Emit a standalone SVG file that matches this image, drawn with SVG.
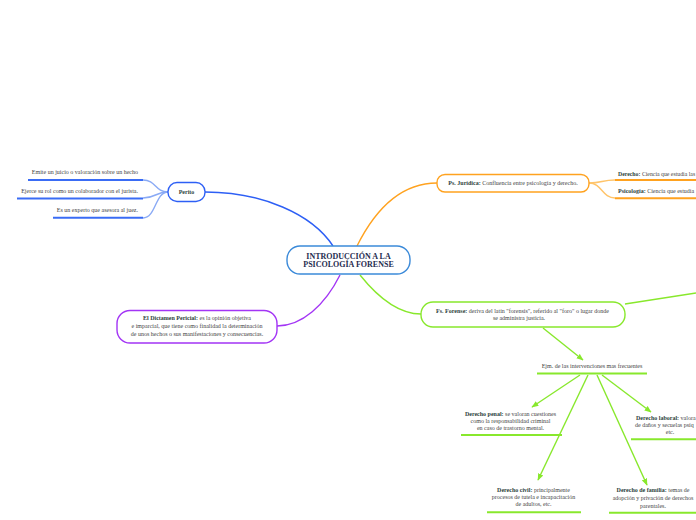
<svg xmlns="http://www.w3.org/2000/svg" width="696" height="520" viewBox="0 0 696 520">
<style>
text{font-family:"Liberation Serif","Times New Roman",serif;font-size:6px;fill:#444;}
.b{font-weight:bold;fill:#2d3f3c;}
.t{font-size:8px;font-weight:bold;fill:#1f2d4f;}
.c{text-anchor:middle;}
.r{text-anchor:end;}
.box{fill:#fff;stroke-width:1.4;}
.cn{fill:none;stroke-width:1.4;}
.ul{fill:none;stroke-width:2;}
</style>
<defs>
<marker id="ag" viewBox="0 0 10 10" refX="9" refY="5" markerWidth="7" markerHeight="7" orient="auto" markerUnits="userSpaceOnUse">
<path d="M0,1 L10,5 L0,9 Z" fill="#88e82c"/>
</marker>
</defs>
<rect width="696" height="520" fill="#fff"/>
<g id="connectors">
<path class="cn" stroke="#2d5ff5" d="M333,246 C312,214 262,192 205,192"/>
<path class="cn" stroke="#ffa21f" d="M357,246 C375,210 400,183 437,183"/>
<path class="cn" stroke="#a335f5" d="M340,275 C325,305 302,326 277,326"/>
<path class="cn" stroke="#88e82c" d="M360,275 C380,300 400,314 421,314"/>
<path class="cn" stroke="#8aaaf5" d="M168,192 C155,192 156,180 143,180"/>
<path class="cn" stroke="#8aaaf5" d="M168,192 C155,192 156,198 143,198"/>
<path class="cn" stroke="#8aaaf5" d="M168,192 C155,192 156,218 143,218"/>
<path class="cn" stroke="#ffc46a" d="M589,183 C602,183 602,180 615,180"/>
<path class="cn" stroke="#ffc46a" d="M589,183 C602,183 602,198 615,198"/>
<path class="cn" stroke="#88e82c" d="M625,304 L696,293"/>
<path class="cn" stroke="#88e82c" d="M543,328 L583,360" marker-end="url(#ag)"/>
<path class="cn" stroke="#88e82c" d="M580,375 L532,407" marker-end="url(#ag)"/>
<path class="cn" stroke="#88e82c" d="M588,375 L538,480" marker-end="url(#ag)"/>
<path class="cn" stroke="#88e82c" d="M597,375 L647,485" marker-end="url(#ag)"/>
<path class="cn" stroke="#88e82c" d="M602,375 L651,412" marker-end="url(#ag)"/>
</g>
<g id="central">
<rect class="box" stroke="#3b8ad9" x="287" y="246" width="123" height="28" rx="13"/>
<text class="t c" x="348.5" y="258.6">INTRODUCCIÓN A LA</text>
<text class="t c" x="348.5" y="267.4">PSICOLOGÍA FORENSE</text>
</g>
<g id="perito">
<rect class="box" stroke="#2d5ff5" x="168" y="182.5" width="37" height="19" rx="9"/>
<text class="b c" x="186.5" y="194">Perito</text>
</g>
<g id="perito-1">
<text class="r" x="138" y="174">Emite un juicio o valoración sobre un hecho</text>
<path class="ul" stroke="#3a6cf5" d="M28,180 H143"/>
</g>
<g id="perito-2">
<text class="r" x="138" y="192.5">Ejerce su rol como un colaborador con el jurista.</text>
<path class="ul" stroke="#3a6cf5" d="M17,198.5 H143"/>
</g>
<g id="perito-3">
<text class="r" x="138" y="211.5">Es un experto que asesora al juez.</text>
<path class="ul" stroke="#3a6cf5" d="M53,217.7 H143"/>
</g>
<g id="juridica">
<rect class="box" stroke="#ffa21f" x="437" y="174.5" width="152" height="17.5" rx="8"/>
<text class="c" x="513" y="185"><tspan class="b">Ps. Jurídica:</tspan> Confluencia entre psicología y derecho.</text>
</g>
<g id="derecho">
<text x="618" y="176" style="font-size:5.8px"><tspan class="b">Derecho:</tspan> Ciencia que estudia las</text>
<path class="ul" stroke="#ffa21f" d="M615,180 H696"/>
</g>
<g id="psicologia">
<text x="618" y="193"><tspan class="b">Psicología:</tspan> Ciencia que estudia</text>
<path class="ul" stroke="#ffa21f" d="M615,198.3 H696"/>
</g>
<g id="dictamen">
<rect class="box" stroke="#a335f5" x="117" y="310.5" width="160" height="32.5" rx="13"/>
<text class="c" x="197" y="320"><tspan class="b">El Dictamen Pericial:</tspan> es la opinión objetiva</text>
<text class="c" x="197" y="327.7">e imparcial, que tiene como finalidad la determinación</text>
<text class="c" x="197" y="335.5">de unos hechos o sus manifestaciones y consecuencias.</text>
</g>
<g id="forense">
<rect class="box" stroke="#88e82c" x="421" y="302" width="204" height="25" rx="12"/>
<text class="c" x="522.5" y="312.7"><tspan class="b">Fs. Forense:</tspan> deriva del latín "forensis", referido al "foro" o lugar donde</text>
<text class="c" x="519" y="320.3">se administra justicia.</text>
</g>
<g id="ejemplos">
<text class="c" x="592" y="367.7">Ejm. de las intervenciones mas frecuentes</text>
<path class="ul" stroke="#88e82c" d="M537,373.5 H647"/>
</g>
<g id="penal">
<text class="c" x="510.5" y="416"><tspan class="b">Derecho penal:</tspan> se valoran cuestiones</text>
<text class="c" x="510.5" y="422.7">como la responsabilidad criminal</text>
<text class="c" x="510.5" y="429.7">en caso de trastorno mental.</text>
<path class="ul" stroke="#88e82c" d="M461,435 H562"/>
</g>
<g id="laboral">
<text x="636" y="420"><tspan class="b">Derecho laboral:</tspan> valora</text>
<text x="635" y="427">de daños y secuelas psíq</text>
<text class="c" x="670" y="434.3">etc.</text>
<path class="ul" stroke="#88e82c" d="M631,439.3 H696"/>
</g>
<g id="civil">
<text class="c" x="533.5" y="492"><tspan class="b">Derecho civil:</tspan> principalmente</text>
<text class="c" x="533.5" y="498.7">procesos de tutela e incapacitación</text>
<text class="c" x="533.5" y="506">de adultos, etc.</text>
<path class="ul" stroke="#88e82c" d="M487,512.3 H581"/>
</g>
<g id="familia">
<text class="c" x="653" y="492"><tspan class="b">Derecho de familia:</tspan> temas de</text>
<text class="c" x="653" y="499.7">adopción y privación de derechos</text>
<text class="c" x="653" y="507.7">parentales.</text>
<path class="ul" stroke="#88e82c" d="M609,512.7 H696"/>
</g>
</svg>
